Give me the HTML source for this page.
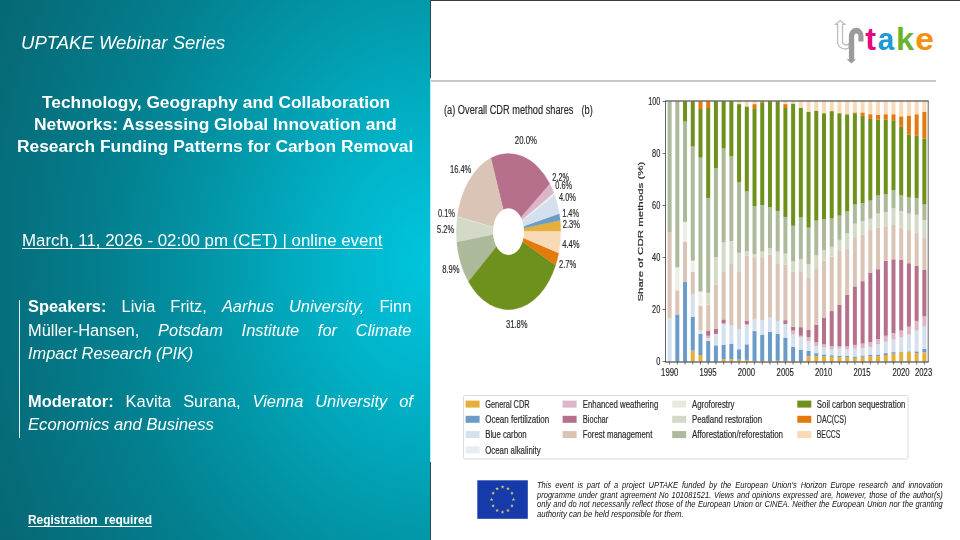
<!DOCTYPE html>
<html lang="en"><head><meta charset="utf-8"><title>UPTAKE Webinar Series</title>
<style>
html,body{margin:0;padding:0;}
body{width:960px;height:540px;overflow:hidden;background:#fff;position:relative;font-family:"Liberation Sans",sans-serif;}
.left{position:absolute;left:0;top:0;width:430.4px;height:540px;
 background:radial-gradient(ellipse 432px 545px at 432px 264px,#00c6de 0,#01b1c6 25.5%,#0297a9 50.2%,#037f8e 75.2%,#066e7c 100%,#076472 116%,#085e6c 126%);}
.ln{position:absolute;white-space:pre;transform-origin:0 0;color:#fff;margin:0;}
.jl{text-align:justify;text-align-last:justify;white-space:normal;}
.b{font-weight:700}.i{font-style:italic}
.u{text-decoration:underline;text-decoration-thickness:1px;text-underline-offset:2px;text-decoration-skip-ink:none}
.vbar{position:absolute;left:19.3px;top:300px;width:1.1px;height:137.5px;background:#e4f3f5;}
.topline{position:absolute;left:430px;top:0;width:530px;height:1.2px;background:#3d3d3d;}
.vd1{position:absolute;left:430.1px;top:0;width:0.9px;height:78px;background:#2c4a50;}
.vd2{position:absolute;left:430.1px;top:462px;width:0.9px;height:78px;background:#2c4a50;}
.vl{position:absolute;left:430px;top:78px;width:1px;height:384px;background:#b9ebf1;}
.hr{position:absolute;left:430.5px;top:80px;width:505px;height:1.6px;background:#c9c9c9;}
.foot{color:#111;}
.logo{position:absolute;}
</style></head><body>
<div class="left"></div>
<div class="topline"></div><div class="vl"></div><div class="vd1"></div><div class="vd2"></div><div class="hr"></div>
<div class="ln i" style="left:21.3px;top:30.65px;font-size:19.2px;line-height:24px;transform:scaleX(0.9655);">UPTAKE Webinar Series</div>
<div class="ln b" style="left:41.5px;top:90.74px;font-size:17.2px;line-height:22px;transform:scaleX(1.0091);">Technology, Geography and Collaboration</div>
<div class="ln b" style="left:34.0px;top:113.04px;font-size:17.2px;line-height:22px;transform:scaleX(1.0118);">Networks: Assessing Global Innovation and</div>
<div class="ln b" style="left:17.0px;top:135.24px;font-size:17.2px;line-height:22px;transform:scaleX(1.0096);">Research Funding Patterns for Carbon Removal</div>
<div class="ln u" style="left:22.2px;top:230.15px;font-size:16.3px;line-height:20px;transform:scaleX(1.0365);">March, 11, 2026 - 02:00 pm (CET) | online event</div>
<div class="ln i" style="left:28.4px;top:343.45px;font-size:16.3px;line-height:20px;transform:scaleX(1.0037);">Impact Research (PIK)</div>
<div class="ln i" style="left:28.4px;top:414.25px;font-size:16.3px;line-height:20px;transform:scaleX(1.0220);">Economics and Business</div>
<div class="ln b u" style="left:27.5px;top:512.57px;font-size:12.2px;line-height:15px;transform:scaleX(0.9791);">Registration  required</div>
<div class="ln jl " style="left:28.4px;top:296.25px;width:380.36px;font-size:16.3px;line-height:20px;transform:scaleX(1.0080);"><span class="b">Speakers:</span> Livia Fritz, <span class="i">Aarhus University,</span> Finn</div>
<div class="ln jl " style="left:28.4px;top:319.85px;width:380.36px;font-size:16.3px;line-height:20px;transform:scaleX(1.0080);">Müller-Hansen, <span class="i">Potsdam Institute for Climate</span></div>
<div class="ln jl " style="left:28.4px;top:390.55px;width:381.85px;font-size:16.3px;line-height:20px;transform:scaleX(1.0080);"><span class="b">Moderator:</span> Kavita Surana, <span class="i">Vienna University of</span></div>
<div class="vbar"></div>
<div class="ln jl i foot" style="left:536.5px;top:480.96px;width:441.09px;font-size:8.2px;line-height:10px;transform:scaleX(0.9200);">This event is part of a project UPTAKE funded by the European Union’s Horizon Europe research and innovation</div>
<div class="ln jl i foot" style="left:536.5px;top:490.66px;width:441.09px;font-size:8.2px;line-height:10px;transform:scaleX(0.9200);">programme under grant agreement No 101081521. Views and opinions expressed are, however, those of the author(s)</div>
<div class="ln jl i foot" style="left:536.5px;top:500.36px;width:441.09px;font-size:8.2px;line-height:10px;transform:scaleX(0.9200);">only and do not necessarily reflect those of the European Union or CINEA. Neither the European Union nor the granting</div>
<div class="ln i foot" style="left:536.5px;top:510.06px;font-size:8.2px;line-height:10px;transform:scaleX(0.9480);">authority can be held responsible for them.</div>
<svg width="960" height="540" style="position:absolute;left:0;top:0;pointer-events:none"><defs><filter id="sb"><feGaussianBlur stdDeviation="0.45"/></filter></defs><rect x="477.3" y="480.3" width="50.5" height="38.5" fill="#173aab"/><g filter="url(#sb)"><polygon points="502.55,484.95 503.02,486.30 504.45,486.33 503.31,487.20 503.73,488.57 502.55,487.75 501.37,488.57 501.79,487.20 500.65,486.33 502.08,486.30" fill="#d6d56a" opacity="0.9"/><polygon points="508.00,486.64 508.47,487.99 509.90,488.02 508.76,488.89 509.18,490.26 508.00,489.44 506.82,490.26 507.24,488.89 506.10,488.02 507.53,487.99" fill="#d6d56a" opacity="0.9"/><polygon points="511.99,491.25 512.46,492.60 513.89,492.63 512.75,493.50 513.17,494.87 511.99,494.05 510.81,494.87 511.23,493.50 510.09,492.63 511.52,492.60" fill="#d6d56a" opacity="0.9"/><polygon points="513.45,497.55 513.92,498.90 515.35,498.93 514.21,499.80 514.63,501.17 513.45,500.35 512.27,501.17 512.69,499.80 511.55,498.93 512.98,498.90" fill="#d6d56a" opacity="0.9"/><polygon points="511.99,503.85 512.46,505.20 513.89,505.23 512.75,506.10 513.17,507.47 511.99,506.65 510.81,507.47 511.23,506.10 510.09,505.23 511.52,505.20" fill="#d6d56a" opacity="0.9"/><polygon points="508.00,508.46 508.47,509.81 509.90,509.84 508.76,510.71 509.18,512.08 508.00,511.26 506.82,512.08 507.24,510.71 506.10,509.84 507.53,509.81" fill="#d6d56a" opacity="0.9"/><polygon points="502.55,510.15 503.02,511.50 504.45,511.53 503.31,512.40 503.73,513.77 502.55,512.95 501.37,513.77 501.79,512.40 500.65,511.53 502.08,511.50" fill="#d6d56a" opacity="0.9"/><polygon points="497.10,508.46 497.57,509.81 499.00,509.84 497.86,510.71 498.28,512.08 497.10,511.26 495.92,512.08 496.34,510.71 495.20,509.84 496.63,509.81" fill="#d6d56a" opacity="0.9"/><polygon points="493.11,503.85 493.58,505.20 495.01,505.23 493.87,506.10 494.29,507.47 493.11,506.65 491.93,507.47 492.35,506.10 491.21,505.23 492.64,505.20" fill="#d6d56a" opacity="0.9"/><polygon points="491.65,497.55 492.12,498.90 493.55,498.93 492.41,499.80 492.83,501.17 491.65,500.35 490.47,501.17 490.89,499.80 489.75,498.93 491.18,498.90" fill="#d6d56a" opacity="0.9"/><polygon points="493.11,491.25 493.58,492.60 495.01,492.63 493.87,493.50 494.29,494.87 493.11,494.05 491.93,494.87 492.35,493.50 491.21,492.63 492.64,492.60" fill="#d6d56a" opacity="0.9"/><polygon points="497.10,486.64 497.57,487.99 499.00,488.02 497.86,488.89 498.28,490.26 497.10,489.44 495.92,490.26 496.34,488.89 495.20,488.02 496.63,487.99" fill="#d6d56a" opacity="0.9"/></g></svg>
<svg width="960" height="540" style="position:absolute;left:0;top:0;pointer-events:none" font-family='"Liberation Sans", sans-serif'>
<path d="M840.1,20.6 L844.7,24.3 L842.5,24.3 L842.5,41.5 A3.6,3.6 0 0 0 849.0,43.5 L849.0,47.8 A7.5,7.5 0 0 1 837.6,42.5 L837.6,24.3 L835.6,24.3 Z" fill="#fff" stroke="#bdbdbd" stroke-width="1.3"/>
<path d="M848.9,59.2 L848.9,36.0 A7.3,8.3 0 0 1 863.5,36.0 L863.5,41.5 L858.4,41.5 L858.4,36.5 A2.1,3.0 0 0 0 854.2,36.5 L854.2,59.2 L856.0,59.2 L851.4,63.6 L846.6,59.2 Z" fill="#9b9b9b"/>
<g font-size="32.5" font-weight="700" transform="translate(0,50.1) scale(1,0.962)"><text x="865.3" y="0" fill="#e5087e">t</text><text x="877.7" y="0" fill="#1c9ad7" textLength="16.4" lengthAdjust="spacingAndGlyphs">a</text><text x="895.9" y="0" fill="#6bb32e">k</text><text x="915.3" y="0" fill="#f2920f" textLength="18.7" lengthAdjust="spacingAndGlyphs">e</text></g>
</svg>
<svg class="chart" width="960" height="540" viewBox="0 0 960 540" style="position:absolute;left:0;top:0" font-family='"Liberation Sans", sans-serif'>
<g filter="url(#bl)">
<path d="M508.5,231.6 L560.70,231.60 A52.2,78.1 0 0 0 560.16,220.35 Z" fill="#e6af3a" stroke="#e6af3a" stroke-width="0.3"/>
<path d="M508.5,231.6 L560.16,220.35 A52.2,78.1 0 0 0 559.30,213.61 Z" fill="#6b9bc9" stroke="#6b9bc9" stroke-width="0.3"/>
<path d="M508.5,231.6 L559.30,213.61 A52.2,78.1 0 0 0 554.71,195.27 Z" fill="#d5e0ee" stroke="#d5e0ee" stroke-width="0.3"/>
<path d="M508.5,231.6 L554.71,195.27 A52.2,78.1 0 0 0 553.76,192.69 Z" fill="#e7ecf5" stroke="#e7ecf5" stroke-width="0.3"/>
<path d="M508.5,231.6 L553.76,192.69 A52.2,78.1 0 0 0 549.75,183.73 Z" fill="#dcb5c6" stroke="#dcb5c6" stroke-width="0.3"/>
<path d="M508.5,231.6 L549.75,183.73 A52.2,78.1 0 0 0 490.82,158.12 Z" fill="#b7708b" stroke="#b7708b" stroke-width="0.3"/>
<path d="M508.5,231.6 L490.82,158.12 A52.2,78.1 0 0 0 457.29,216.48 Z" fill="#d9c4b6" stroke="#d9c4b6" stroke-width="0.3"/>
<path d="M508.5,231.6 L457.29,216.48 A52.2,78.1 0 0 0 457.22,216.97 Z" fill="#e6ebe0" stroke="#e6ebe0" stroke-width="0.3"/>
<path d="M508.5,231.6 L457.22,216.97 A52.2,78.1 0 0 0 456.80,242.36 Z" fill="#d3dbc8" stroke="#d3dbc8" stroke-width="0.3"/>
<path d="M508.5,231.6 L456.80,242.36 A52.2,78.1 0 0 0 468.49,281.76 Z" fill="#acb99b" stroke="#acb99b" stroke-width="0.3"/>
<path d="M508.5,231.6 L468.49,281.76 A52.2,78.1 0 0 0 555.59,265.30 Z" fill="#6e901b" stroke="#6e901b" stroke-width="0.3"/>
<path d="M508.5,231.6 L555.59,265.30 A52.2,78.1 0 0 0 558.72,252.92 Z" fill="#e37a10" stroke="#e37a10" stroke-width="0.3"/>
<path d="M508.5,231.6 L558.72,252.92 A52.2,78.1 0 0 0 560.70,231.60 Z" fill="#f8dab6" stroke="#f8dab6" stroke-width="0.3"/>
<ellipse cx="508.5" cy="231.6" rx="15.6" ry="23.4" fill="#fff"/>
<rect x="667.60" y="318.34" width="4.0" height="43.16" fill="#d5e0ee"/>
<rect x="667.60" y="232.02" width="4.0" height="86.32" fill="#d9c4b6"/>
<rect x="667.60" y="101.50" width="4.0" height="130.52" fill="#acb99b"/>
<rect x="675.32" y="314.44" width="4.0" height="47.06" fill="#6b9bc9"/>
<rect x="675.32" y="290.26" width="4.0" height="24.18" fill="#d9c4b6"/>
<rect x="675.32" y="267.38" width="4.0" height="22.88" fill="#ebefe6"/>
<rect x="675.32" y="101.50" width="4.0" height="165.88" fill="#acb99b"/>
<rect x="683.04" y="281.94" width="4.0" height="79.56" fill="#6b9bc9"/>
<rect x="683.04" y="241.64" width="4.0" height="40.30" fill="#d9c4b6"/>
<rect x="683.04" y="221.88" width="4.0" height="19.76" fill="#ebefe6"/>
<rect x="683.04" y="121.52" width="4.0" height="100.36" fill="#acb99b"/>
<rect x="683.04" y="101.50" width="4.0" height="20.02" fill="#6e901b"/>
<rect x="690.76" y="350.58" width="4.0" height="10.92" fill="#e6af3a"/>
<rect x="690.76" y="316.78" width="4.0" height="33.80" fill="#6b9bc9"/>
<rect x="690.76" y="294.16" width="4.0" height="22.62" fill="#d5e0ee"/>
<rect x="690.76" y="271.80" width="4.0" height="22.36" fill="#d9c4b6"/>
<rect x="690.76" y="260.62" width="4.0" height="11.18" fill="#ebefe6"/>
<rect x="690.76" y="146.48" width="4.0" height="114.14" fill="#acb99b"/>
<rect x="690.76" y="101.50" width="4.0" height="44.98" fill="#6e901b"/>
<rect x="698.48" y="355.00" width="4.0" height="6.50" fill="#e6af3a"/>
<rect x="698.48" y="333.94" width="4.0" height="21.06" fill="#6b9bc9"/>
<rect x="698.48" y="330.56" width="4.0" height="3.38" fill="#d5e0ee"/>
<rect x="698.48" y="305.86" width="4.0" height="24.70" fill="#d9c4b6"/>
<rect x="698.48" y="291.56" width="4.0" height="14.30" fill="#ebefe6"/>
<rect x="698.48" y="157.66" width="4.0" height="133.90" fill="#acb99b"/>
<rect x="698.48" y="109.04" width="4.0" height="48.62" fill="#6e901b"/>
<rect x="698.48" y="101.50" width="4.0" height="7.54" fill="#e37a10"/>
<rect x="706.20" y="340.96" width="4.0" height="20.54" fill="#6b9bc9"/>
<rect x="706.20" y="338.10" width="4.0" height="2.86" fill="#d5e0ee"/>
<rect x="706.20" y="335.76" width="4.0" height="2.34" fill="#dcb5c6"/>
<rect x="706.20" y="330.56" width="4.0" height="5.20" fill="#b7708b"/>
<rect x="706.20" y="304.56" width="4.0" height="26.00" fill="#d9c4b6"/>
<rect x="706.20" y="292.86" width="4.0" height="11.70" fill="#d3dbc8"/>
<rect x="706.20" y="197.96" width="4.0" height="94.90" fill="#acb99b"/>
<rect x="706.20" y="108.00" width="4.0" height="89.96" fill="#6e901b"/>
<rect x="706.20" y="101.50" width="4.0" height="6.50" fill="#e37a10"/>
<rect x="713.92" y="345.38" width="4.0" height="16.12" fill="#6b9bc9"/>
<rect x="713.92" y="333.94" width="4.0" height="11.44" fill="#d5e0ee"/>
<rect x="713.92" y="328.74" width="4.0" height="5.20" fill="#b7708b"/>
<rect x="713.92" y="284.54" width="4.0" height="44.20" fill="#d9c4b6"/>
<rect x="713.92" y="257.24" width="4.0" height="27.30" fill="#d3dbc8"/>
<rect x="713.92" y="168.06" width="4.0" height="89.18" fill="#acb99b"/>
<rect x="713.92" y="101.50" width="4.0" height="66.56" fill="#6e901b"/>
<rect x="721.64" y="359.16" width="4.0" height="2.34" fill="#e6af3a"/>
<rect x="721.64" y="344.86" width="4.0" height="14.30" fill="#6b9bc9"/>
<rect x="721.64" y="323.54" width="4.0" height="21.32" fill="#d5e0ee"/>
<rect x="721.64" y="319.38" width="4.0" height="4.16" fill="#b7708b"/>
<rect x="721.64" y="272.06" width="4.0" height="47.32" fill="#d9c4b6"/>
<rect x="721.64" y="242.42" width="4.0" height="29.64" fill="#d3dbc8"/>
<rect x="721.64" y="148.56" width="4.0" height="93.86" fill="#acb99b"/>
<rect x="721.64" y="101.50" width="4.0" height="47.06" fill="#6e901b"/>
<rect x="729.36" y="359.16" width="4.0" height="2.34" fill="#e6af3a"/>
<rect x="729.36" y="343.56" width="4.0" height="15.60" fill="#6b9bc9"/>
<rect x="729.36" y="325.10" width="4.0" height="18.46" fill="#d5e0ee"/>
<rect x="729.36" y="324.06" width="4.0" height="1.04" fill="#dcb5c6"/>
<rect x="729.36" y="263.22" width="4.0" height="60.84" fill="#d9c4b6"/>
<rect x="729.36" y="241.12" width="4.0" height="22.10" fill="#d3dbc8"/>
<rect x="729.36" y="156.36" width="4.0" height="84.76" fill="#acb99b"/>
<rect x="729.36" y="101.50" width="4.0" height="54.86" fill="#6e901b"/>
<rect x="737.08" y="359.68" width="4.0" height="1.82" fill="#e6af3a"/>
<rect x="737.08" y="349.28" width="4.0" height="10.40" fill="#6b9bc9"/>
<rect x="737.08" y="329.26" width="4.0" height="20.02" fill="#d5e0ee"/>
<rect x="737.08" y="272.06" width="4.0" height="57.20" fill="#d9c4b6"/>
<rect x="737.08" y="252.82" width="4.0" height="19.24" fill="#d3dbc8"/>
<rect x="737.08" y="182.36" width="4.0" height="70.46" fill="#acb99b"/>
<rect x="737.08" y="104.10" width="4.0" height="78.26" fill="#6e901b"/>
<rect x="737.08" y="101.50" width="4.0" height="2.60" fill="#f8dab6"/>
<rect x="744.80" y="359.94" width="4.0" height="1.56" fill="#e6af3a"/>
<rect x="744.80" y="344.34" width="4.0" height="15.60" fill="#6b9bc9"/>
<rect x="744.80" y="325.36" width="4.0" height="18.98" fill="#d5e0ee"/>
<rect x="744.80" y="324.06" width="4.0" height="1.30" fill="#dcb5c6"/>
<rect x="744.80" y="320.94" width="4.0" height="3.12" fill="#b7708b"/>
<rect x="744.80" y="255.42" width="4.0" height="65.52" fill="#d9c4b6"/>
<rect x="744.80" y="251.52" width="4.0" height="3.90" fill="#d3dbc8"/>
<rect x="744.80" y="191.46" width="4.0" height="60.06" fill="#acb99b"/>
<rect x="744.80" y="106.44" width="4.0" height="85.02" fill="#6e901b"/>
<rect x="744.80" y="101.50" width="4.0" height="4.94" fill="#f8dab6"/>
<rect x="752.52" y="360.98" width="4.0" height="0.52" fill="#e6af3a"/>
<rect x="752.52" y="331.08" width="4.0" height="29.90" fill="#6b9bc9"/>
<rect x="752.52" y="319.38" width="4.0" height="11.70" fill="#d5e0ee"/>
<rect x="752.52" y="258.02" width="4.0" height="61.36" fill="#d9c4b6"/>
<rect x="752.52" y="254.12" width="4.0" height="3.90" fill="#d3dbc8"/>
<rect x="752.52" y="206.28" width="4.0" height="47.84" fill="#acb99b"/>
<rect x="752.52" y="109.04" width="4.0" height="97.24" fill="#6e901b"/>
<rect x="752.52" y="104.10" width="4.0" height="4.94" fill="#e37a10"/>
<rect x="752.52" y="101.50" width="4.0" height="2.60" fill="#f8dab6"/>
<rect x="760.24" y="360.98" width="4.0" height="0.52" fill="#e6af3a"/>
<rect x="760.24" y="334.98" width="4.0" height="26.00" fill="#6b9bc9"/>
<rect x="760.24" y="320.16" width="4.0" height="14.82" fill="#d5e0ee"/>
<rect x="760.24" y="257.24" width="4.0" height="62.92" fill="#d9c4b6"/>
<rect x="760.24" y="251.52" width="4.0" height="5.72" fill="#d3dbc8"/>
<rect x="760.24" y="204.98" width="4.0" height="46.54" fill="#acb99b"/>
<rect x="760.24" y="102.80" width="4.0" height="102.18" fill="#6e901b"/>
<rect x="760.24" y="101.50" width="4.0" height="1.30" fill="#e37a10"/>
<rect x="767.96" y="360.98" width="4.0" height="0.52" fill="#e6af3a"/>
<rect x="767.96" y="331.86" width="4.0" height="29.12" fill="#6b9bc9"/>
<rect x="767.96" y="317.56" width="4.0" height="14.30" fill="#d5e0ee"/>
<rect x="767.96" y="254.64" width="4.0" height="62.92" fill="#d9c4b6"/>
<rect x="767.96" y="248.40" width="4.0" height="6.24" fill="#d3dbc8"/>
<rect x="767.96" y="207.06" width="4.0" height="41.34" fill="#acb99b"/>
<rect x="767.96" y="101.50" width="4.0" height="105.56" fill="#6e901b"/>
<rect x="775.68" y="360.72" width="4.0" height="0.78" fill="#e6af3a"/>
<rect x="775.68" y="333.94" width="4.0" height="26.78" fill="#6b9bc9"/>
<rect x="775.68" y="320.94" width="4.0" height="13.00" fill="#d5e0ee"/>
<rect x="775.68" y="264.00" width="4.0" height="56.94" fill="#d9c4b6"/>
<rect x="775.68" y="251.52" width="4.0" height="12.48" fill="#d3dbc8"/>
<rect x="775.68" y="210.96" width="4.0" height="40.56" fill="#acb99b"/>
<rect x="775.68" y="101.50" width="4.0" height="109.46" fill="#6e901b"/>
<rect x="783.40" y="360.98" width="4.0" height="0.52" fill="#e6af3a"/>
<rect x="783.40" y="337.58" width="4.0" height="23.40" fill="#6b9bc9"/>
<rect x="783.40" y="324.06" width="4.0" height="13.52" fill="#d5e0ee"/>
<rect x="783.40" y="320.16" width="4.0" height="3.90" fill="#b7708b"/>
<rect x="783.40" y="264.52" width="4.0" height="55.64" fill="#d9c4b6"/>
<rect x="783.40" y="253.60" width="4.0" height="10.92" fill="#d3dbc8"/>
<rect x="783.40" y="216.94" width="4.0" height="36.66" fill="#acb99b"/>
<rect x="783.40" y="108.00" width="4.0" height="108.94" fill="#6e901b"/>
<rect x="783.40" y="104.10" width="4.0" height="3.90" fill="#e37a10"/>
<rect x="783.40" y="101.50" width="4.0" height="2.60" fill="#f8dab6"/>
<rect x="791.12" y="360.98" width="4.0" height="0.52" fill="#e6af3a"/>
<rect x="791.12" y="346.68" width="4.0" height="14.30" fill="#6b9bc9"/>
<rect x="791.12" y="334.46" width="4.0" height="12.22" fill="#d5e0ee"/>
<rect x="791.12" y="330.56" width="4.0" height="3.90" fill="#dcb5c6"/>
<rect x="791.12" y="326.66" width="4.0" height="3.90" fill="#b7708b"/>
<rect x="791.12" y="271.80" width="4.0" height="54.86" fill="#d9c4b6"/>
<rect x="791.12" y="261.40" width="4.0" height="10.40" fill="#d3dbc8"/>
<rect x="791.12" y="225.78" width="4.0" height="35.62" fill="#acb99b"/>
<rect x="791.12" y="103.58" width="4.0" height="122.20" fill="#6e901b"/>
<rect x="791.12" y="101.50" width="4.0" height="2.08" fill="#f8dab6"/>
<rect x="798.84" y="360.98" width="4.0" height="0.52" fill="#e6af3a"/>
<rect x="798.84" y="349.54" width="4.0" height="11.44" fill="#6b9bc9"/>
<rect x="798.84" y="337.06" width="4.0" height="12.48" fill="#d5e0ee"/>
<rect x="798.84" y="335.76" width="4.0" height="1.30" fill="#dcb5c6"/>
<rect x="798.84" y="327.18" width="4.0" height="8.58" fill="#b7708b"/>
<rect x="798.84" y="272.06" width="4.0" height="55.12" fill="#d9c4b6"/>
<rect x="798.84" y="259.32" width="4.0" height="12.74" fill="#d3dbc8"/>
<rect x="798.84" y="217.46" width="4.0" height="41.86" fill="#acb99b"/>
<rect x="798.84" y="107.74" width="4.0" height="109.72" fill="#6e901b"/>
<rect x="798.84" y="101.50" width="4.0" height="6.24" fill="#f8dab6"/>
<rect x="806.56" y="356.30" width="4.0" height="5.20" fill="#e6af3a"/>
<rect x="806.56" y="350.84" width="4.0" height="5.46" fill="#6b9bc9"/>
<rect x="806.56" y="340.96" width="4.0" height="9.88" fill="#d5e0ee"/>
<rect x="806.56" y="337.06" width="4.0" height="3.90" fill="#dcb5c6"/>
<rect x="806.56" y="329.78" width="4.0" height="7.28" fill="#b7708b"/>
<rect x="806.56" y="277.26" width="4.0" height="52.52" fill="#d9c4b6"/>
<rect x="806.56" y="264.26" width="4.0" height="13.00" fill="#d3dbc8"/>
<rect x="806.56" y="227.60" width="4.0" height="36.66" fill="#acb99b"/>
<rect x="806.56" y="111.64" width="4.0" height="115.96" fill="#6e901b"/>
<rect x="806.56" y="101.50" width="4.0" height="10.14" fill="#f8dab6"/>
<rect x="814.28" y="356.30" width="4.0" height="5.20" fill="#e6af3a"/>
<rect x="814.28" y="353.18" width="4.0" height="3.12" fill="#6b9bc9"/>
<rect x="814.28" y="346.16" width="4.0" height="7.02" fill="#d5e0ee"/>
<rect x="814.28" y="342.26" width="4.0" height="3.90" fill="#dcb5c6"/>
<rect x="814.28" y="324.58" width="4.0" height="17.68" fill="#b7708b"/>
<rect x="814.28" y="268.16" width="4.0" height="56.42" fill="#d9c4b6"/>
<rect x="814.28" y="255.42" width="4.0" height="12.74" fill="#d3dbc8"/>
<rect x="814.28" y="220.58" width="4.0" height="34.84" fill="#acb99b"/>
<rect x="814.28" y="110.60" width="4.0" height="109.98" fill="#6e901b"/>
<rect x="814.28" y="101.50" width="4.0" height="9.10" fill="#f8dab6"/>
<rect x="822.00" y="356.30" width="4.0" height="5.20" fill="#e6af3a"/>
<rect x="822.00" y="354.48" width="4.0" height="1.82" fill="#6b9bc9"/>
<rect x="822.00" y="347.46" width="4.0" height="7.02" fill="#d5e0ee"/>
<rect x="822.00" y="344.34" width="4.0" height="3.12" fill="#dcb5c6"/>
<rect x="822.00" y="317.56" width="4.0" height="26.78" fill="#b7708b"/>
<rect x="822.00" y="260.62" width="4.0" height="56.94" fill="#d9c4b6"/>
<rect x="822.00" y="250.22" width="4.0" height="10.40" fill="#d3dbc8"/>
<rect x="822.00" y="219.28" width="4.0" height="30.94" fill="#acb99b"/>
<rect x="822.00" y="113.20" width="4.0" height="106.08" fill="#6e901b"/>
<rect x="822.00" y="101.50" width="4.0" height="11.70" fill="#f8dab6"/>
<rect x="829.72" y="356.82" width="4.0" height="4.68" fill="#e6af3a"/>
<rect x="829.72" y="355.26" width="4.0" height="1.56" fill="#6b9bc9"/>
<rect x="829.72" y="349.54" width="4.0" height="5.72" fill="#d5e0ee"/>
<rect x="829.72" y="346.16" width="4.0" height="3.38" fill="#dcb5c6"/>
<rect x="829.72" y="311.06" width="4.0" height="35.10" fill="#b7708b"/>
<rect x="829.72" y="256.72" width="4.0" height="54.34" fill="#d9c4b6"/>
<rect x="829.72" y="246.84" width="4.0" height="9.88" fill="#d3dbc8"/>
<rect x="829.72" y="218.50" width="4.0" height="28.34" fill="#acb99b"/>
<rect x="829.72" y="111.12" width="4.0" height="107.38" fill="#6e901b"/>
<rect x="829.72" y="101.50" width="4.0" height="9.62" fill="#f8dab6"/>
<rect x="837.44" y="357.08" width="4.0" height="4.42" fill="#e6af3a"/>
<rect x="837.44" y="355.78" width="4.0" height="1.30" fill="#6b9bc9"/>
<rect x="837.44" y="348.76" width="4.0" height="7.02" fill="#d5e0ee"/>
<rect x="837.44" y="346.16" width="4.0" height="2.60" fill="#dcb5c6"/>
<rect x="837.44" y="304.56" width="4.0" height="41.60" fill="#b7708b"/>
<rect x="837.44" y="250.22" width="4.0" height="54.34" fill="#d9c4b6"/>
<rect x="837.44" y="239.82" width="4.0" height="10.40" fill="#d3dbc8"/>
<rect x="837.44" y="215.64" width="4.0" height="24.18" fill="#acb99b"/>
<rect x="837.44" y="113.20" width="4.0" height="102.44" fill="#6e901b"/>
<rect x="837.44" y="101.50" width="4.0" height="11.70" fill="#f8dab6"/>
<rect x="845.16" y="357.08" width="4.0" height="4.42" fill="#e6af3a"/>
<rect x="845.16" y="356.04" width="4.0" height="1.04" fill="#6b9bc9"/>
<rect x="845.16" y="349.54" width="4.0" height="6.50" fill="#d5e0ee"/>
<rect x="845.16" y="346.16" width="4.0" height="3.38" fill="#dcb5c6"/>
<rect x="845.16" y="294.94" width="4.0" height="51.22" fill="#b7708b"/>
<rect x="845.16" y="248.92" width="4.0" height="46.02" fill="#d9c4b6"/>
<rect x="845.16" y="233.32" width="4.0" height="15.60" fill="#d3dbc8"/>
<rect x="845.16" y="211.48" width="4.0" height="21.84" fill="#acb99b"/>
<rect x="845.16" y="114.24" width="4.0" height="97.24" fill="#6e901b"/>
<rect x="845.16" y="101.50" width="4.0" height="12.74" fill="#f8dab6"/>
<rect x="852.88" y="357.86" width="4.0" height="3.64" fill="#e6af3a"/>
<rect x="852.88" y="356.56" width="4.0" height="1.30" fill="#6b9bc9"/>
<rect x="852.88" y="348.76" width="4.0" height="7.80" fill="#d5e0ee"/>
<rect x="852.88" y="344.86" width="4.0" height="3.90" fill="#dcb5c6"/>
<rect x="852.88" y="286.36" width="4.0" height="58.50" fill="#b7708b"/>
<rect x="852.88" y="237.22" width="4.0" height="49.14" fill="#d9c4b6"/>
<rect x="852.88" y="223.70" width="4.0" height="13.52" fill="#d3dbc8"/>
<rect x="852.88" y="204.46" width="4.0" height="19.24" fill="#acb99b"/>
<rect x="852.88" y="113.20" width="4.0" height="91.26" fill="#6e901b"/>
<rect x="852.88" y="112.42" width="4.0" height="0.78" fill="#e37a10"/>
<rect x="852.88" y="101.50" width="4.0" height="10.92" fill="#f8dab6"/>
<rect x="860.60" y="356.82" width="4.0" height="4.68" fill="#e6af3a"/>
<rect x="860.60" y="355.52" width="4.0" height="1.30" fill="#6b9bc9"/>
<rect x="860.60" y="347.98" width="4.0" height="7.54" fill="#d5e0ee"/>
<rect x="860.60" y="343.56" width="4.0" height="4.42" fill="#dcb5c6"/>
<rect x="860.60" y="281.16" width="4.0" height="62.40" fill="#b7708b"/>
<rect x="860.60" y="234.62" width="4.0" height="46.54" fill="#d9c4b6"/>
<rect x="860.60" y="221.10" width="4.0" height="13.52" fill="#d3dbc8"/>
<rect x="860.60" y="203.16" width="4.0" height="17.94" fill="#acb99b"/>
<rect x="860.60" y="115.80" width="4.0" height="87.36" fill="#6e901b"/>
<rect x="860.60" y="112.42" width="4.0" height="3.38" fill="#e37a10"/>
<rect x="860.60" y="101.50" width="4.0" height="10.92" fill="#f8dab6"/>
<rect x="868.32" y="356.30" width="4.0" height="5.20" fill="#e6af3a"/>
<rect x="868.32" y="354.74" width="4.0" height="1.56" fill="#6b9bc9"/>
<rect x="868.32" y="346.94" width="4.0" height="7.80" fill="#d5e0ee"/>
<rect x="868.32" y="342.26" width="4.0" height="4.68" fill="#dcb5c6"/>
<rect x="868.32" y="272.58" width="4.0" height="69.68" fill="#b7708b"/>
<rect x="868.32" y="229.42" width="4.0" height="43.16" fill="#d9c4b6"/>
<rect x="868.32" y="218.76" width="4.0" height="10.66" fill="#d3dbc8"/>
<rect x="868.32" y="200.56" width="4.0" height="18.20" fill="#acb99b"/>
<rect x="868.32" y="118.92" width="4.0" height="81.64" fill="#6e901b"/>
<rect x="868.32" y="114.24" width="4.0" height="4.68" fill="#e37a10"/>
<rect x="868.32" y="101.50" width="4.0" height="12.74" fill="#f8dab6"/>
<rect x="876.04" y="355.91" width="4.0" height="5.59" fill="#e6af3a"/>
<rect x="876.04" y="354.48" width="4.0" height="1.43" fill="#6b9bc9"/>
<rect x="876.04" y="344.34" width="4.0" height="10.14" fill="#d5e0ee"/>
<rect x="876.04" y="339.14" width="4.0" height="5.20" fill="#dcb5c6"/>
<rect x="876.04" y="269.20" width="4.0" height="69.94" fill="#b7708b"/>
<rect x="876.04" y="227.34" width="4.0" height="41.86" fill="#d9c4b6"/>
<rect x="876.04" y="213.56" width="4.0" height="13.78" fill="#d3dbc8"/>
<rect x="876.04" y="195.36" width="4.0" height="18.20" fill="#acb99b"/>
<rect x="876.04" y="119.44" width="4.0" height="75.92" fill="#6e901b"/>
<rect x="876.04" y="115.02" width="4.0" height="4.42" fill="#e37a10"/>
<rect x="876.04" y="101.50" width="4.0" height="13.52" fill="#f8dab6"/>
<rect x="883.76" y="355.00" width="4.0" height="6.50" fill="#e6af3a"/>
<rect x="883.76" y="353.18" width="4.0" height="1.82" fill="#6b9bc9"/>
<rect x="883.76" y="341.74" width="4.0" height="11.44" fill="#d5e0ee"/>
<rect x="883.76" y="335.76" width="4.0" height="5.98" fill="#dcb5c6"/>
<rect x="883.76" y="260.62" width="4.0" height="75.14" fill="#b7708b"/>
<rect x="883.76" y="226.30" width="4.0" height="34.32" fill="#d9c4b6"/>
<rect x="883.76" y="212.26" width="4.0" height="14.04" fill="#d3dbc8"/>
<rect x="883.76" y="194.06" width="4.0" height="18.20" fill="#acb99b"/>
<rect x="883.76" y="119.44" width="4.0" height="74.62" fill="#6e901b"/>
<rect x="883.76" y="114.24" width="4.0" height="5.20" fill="#e37a10"/>
<rect x="883.76" y="101.50" width="4.0" height="12.74" fill="#f8dab6"/>
<rect x="891.48" y="353.70" width="4.0" height="7.80" fill="#e6af3a"/>
<rect x="891.48" y="352.14" width="4.0" height="1.56" fill="#6b9bc9"/>
<rect x="891.48" y="339.66" width="4.0" height="12.48" fill="#d5e0ee"/>
<rect x="891.48" y="333.16" width="4.0" height="6.50" fill="#dcb5c6"/>
<rect x="891.48" y="259.32" width="4.0" height="73.84" fill="#b7708b"/>
<rect x="891.48" y="225.00" width="4.0" height="34.32" fill="#d9c4b6"/>
<rect x="891.48" y="208.36" width="4.0" height="16.64" fill="#d3dbc8"/>
<rect x="891.48" y="190.16" width="4.0" height="18.20" fill="#acb99b"/>
<rect x="891.48" y="120.22" width="4.0" height="69.94" fill="#6e901b"/>
<rect x="891.48" y="114.24" width="4.0" height="5.98" fill="#e37a10"/>
<rect x="891.48" y="101.50" width="4.0" height="12.74" fill="#f8dab6"/>
<rect x="899.20" y="352.40" width="4.0" height="9.10" fill="#e6af3a"/>
<rect x="899.20" y="351.62" width="4.0" height="0.78" fill="#6b9bc9"/>
<rect x="899.20" y="337.06" width="4.0" height="14.56" fill="#d5e0ee"/>
<rect x="899.20" y="330.56" width="4.0" height="6.50" fill="#dcb5c6"/>
<rect x="899.20" y="259.84" width="4.0" height="70.72" fill="#b7708b"/>
<rect x="899.20" y="227.60" width="4.0" height="32.24" fill="#d9c4b6"/>
<rect x="899.20" y="210.96" width="4.0" height="16.64" fill="#d3dbc8"/>
<rect x="899.20" y="195.36" width="4.0" height="15.60" fill="#acb99b"/>
<rect x="899.20" y="126.72" width="4.0" height="68.64" fill="#6e901b"/>
<rect x="899.20" y="116.32" width="4.0" height="10.40" fill="#e37a10"/>
<rect x="899.20" y="101.50" width="4.0" height="14.82" fill="#f8dab6"/>
<rect x="906.92" y="352.01" width="4.0" height="9.49" fill="#e6af3a"/>
<rect x="906.92" y="351.36" width="4.0" height="0.65" fill="#6b9bc9"/>
<rect x="906.92" y="334.46" width="4.0" height="16.90" fill="#d5e0ee"/>
<rect x="906.92" y="326.66" width="4.0" height="7.80" fill="#dcb5c6"/>
<rect x="906.92" y="263.22" width="4.0" height="63.44" fill="#b7708b"/>
<rect x="906.92" y="230.20" width="4.0" height="33.02" fill="#d9c4b6"/>
<rect x="906.92" y="213.56" width="4.0" height="16.64" fill="#d3dbc8"/>
<rect x="906.92" y="197.44" width="4.0" height="16.12" fill="#acb99b"/>
<rect x="906.92" y="134.52" width="4.0" height="62.92" fill="#6e901b"/>
<rect x="906.92" y="115.54" width="4.0" height="18.98" fill="#e37a10"/>
<rect x="906.92" y="101.50" width="4.0" height="14.04" fill="#f8dab6"/>
<rect x="914.64" y="353.18" width="4.0" height="8.32" fill="#e6af3a"/>
<rect x="914.64" y="351.36" width="4.0" height="1.82" fill="#6b9bc9"/>
<rect x="914.64" y="330.56" width="4.0" height="20.80" fill="#d5e0ee"/>
<rect x="914.64" y="320.94" width="4.0" height="9.62" fill="#dcb5c6"/>
<rect x="914.64" y="265.82" width="4.0" height="55.12" fill="#b7708b"/>
<rect x="914.64" y="232.80" width="4.0" height="33.02" fill="#d9c4b6"/>
<rect x="914.64" y="214.86" width="4.0" height="17.94" fill="#d3dbc8"/>
<rect x="914.64" y="197.96" width="4.0" height="16.90" fill="#acb99b"/>
<rect x="914.64" y="135.82" width="4.0" height="62.14" fill="#6e901b"/>
<rect x="914.64" y="114.24" width="4.0" height="21.58" fill="#e37a10"/>
<rect x="914.64" y="101.50" width="4.0" height="12.74" fill="#f8dab6"/>
<rect x="922.36" y="352.40" width="4.0" height="9.10" fill="#e6af3a"/>
<rect x="922.36" y="348.76" width="4.0" height="3.64" fill="#6b9bc9"/>
<rect x="922.36" y="326.66" width="4.0" height="22.10" fill="#d5e0ee"/>
<rect x="922.36" y="316.26" width="4.0" height="10.40" fill="#dcb5c6"/>
<rect x="922.36" y="269.98" width="4.0" height="46.28" fill="#b7708b"/>
<rect x="922.36" y="238.00" width="4.0" height="31.98" fill="#d9c4b6"/>
<rect x="922.36" y="220.06" width="4.0" height="17.94" fill="#d3dbc8"/>
<rect x="922.36" y="204.46" width="4.0" height="15.60" fill="#acb99b"/>
<rect x="922.36" y="138.42" width="4.0" height="66.04" fill="#6e901b"/>
<rect x="922.36" y="111.64" width="4.0" height="26.78" fill="#e37a10"/>
<rect x="922.36" y="101.50" width="4.0" height="10.14" fill="#f8dab6"/>
</g>
<g filter="url(#bt)">
<path d="M665,101 H928.6 M665,361.9 H928.6" fill="none" stroke="#2e2e2e" stroke-width="1.05"/>
<path d="M665.5,101 V362 M928.2,101 V362" fill="none" stroke="#3c3c3c" stroke-width="0.8"/>
<line x1="662.6" x2="665.2" y1="361.5" y2="361.5" stroke="#3a3a3a" stroke-width="0.7"/>
<line x1="662.6" x2="665.2" y1="309.5" y2="309.5" stroke="#3a3a3a" stroke-width="0.7"/>
<line x1="662.6" x2="665.2" y1="257.5" y2="257.5" stroke="#3a3a3a" stroke-width="0.7"/>
<line x1="662.6" x2="665.2" y1="205.5" y2="205.5" stroke="#3a3a3a" stroke-width="0.7"/>
<line x1="662.6" x2="665.2" y1="153.5" y2="153.5" stroke="#3a3a3a" stroke-width="0.7"/>
<line x1="662.6" x2="665.2" y1="101.5" y2="101.5" stroke="#3a3a3a" stroke-width="0.7"/>
<line x1="669.60" x2="669.60" y1="361.8" y2="364.6" stroke="#3a3a3a" stroke-width="0.7"/>
<line x1="677.32" x2="677.32" y1="361.8" y2="364.6" stroke="#3a3a3a" stroke-width="0.7"/>
<line x1="685.04" x2="685.04" y1="361.8" y2="364.6" stroke="#3a3a3a" stroke-width="0.7"/>
<line x1="692.76" x2="692.76" y1="361.8" y2="364.6" stroke="#3a3a3a" stroke-width="0.7"/>
<line x1="700.48" x2="700.48" y1="361.8" y2="364.6" stroke="#3a3a3a" stroke-width="0.7"/>
<line x1="708.20" x2="708.20" y1="361.8" y2="364.6" stroke="#3a3a3a" stroke-width="0.7"/>
<line x1="715.92" x2="715.92" y1="361.8" y2="364.6" stroke="#3a3a3a" stroke-width="0.7"/>
<line x1="723.64" x2="723.64" y1="361.8" y2="364.6" stroke="#3a3a3a" stroke-width="0.7"/>
<line x1="731.36" x2="731.36" y1="361.8" y2="364.6" stroke="#3a3a3a" stroke-width="0.7"/>
<line x1="739.08" x2="739.08" y1="361.8" y2="364.6" stroke="#3a3a3a" stroke-width="0.7"/>
<line x1="746.80" x2="746.80" y1="361.8" y2="364.6" stroke="#3a3a3a" stroke-width="0.7"/>
<line x1="754.52" x2="754.52" y1="361.8" y2="364.6" stroke="#3a3a3a" stroke-width="0.7"/>
<line x1="762.24" x2="762.24" y1="361.8" y2="364.6" stroke="#3a3a3a" stroke-width="0.7"/>
<line x1="769.96" x2="769.96" y1="361.8" y2="364.6" stroke="#3a3a3a" stroke-width="0.7"/>
<line x1="777.68" x2="777.68" y1="361.8" y2="364.6" stroke="#3a3a3a" stroke-width="0.7"/>
<line x1="785.40" x2="785.40" y1="361.8" y2="364.6" stroke="#3a3a3a" stroke-width="0.7"/>
<line x1="793.12" x2="793.12" y1="361.8" y2="364.6" stroke="#3a3a3a" stroke-width="0.7"/>
<line x1="800.84" x2="800.84" y1="361.8" y2="364.6" stroke="#3a3a3a" stroke-width="0.7"/>
<line x1="808.56" x2="808.56" y1="361.8" y2="364.6" stroke="#3a3a3a" stroke-width="0.7"/>
<line x1="816.28" x2="816.28" y1="361.8" y2="364.6" stroke="#3a3a3a" stroke-width="0.7"/>
<line x1="824.00" x2="824.00" y1="361.8" y2="364.6" stroke="#3a3a3a" stroke-width="0.7"/>
<line x1="831.72" x2="831.72" y1="361.8" y2="364.6" stroke="#3a3a3a" stroke-width="0.7"/>
<line x1="839.44" x2="839.44" y1="361.8" y2="364.6" stroke="#3a3a3a" stroke-width="0.7"/>
<line x1="847.16" x2="847.16" y1="361.8" y2="364.6" stroke="#3a3a3a" stroke-width="0.7"/>
<line x1="854.88" x2="854.88" y1="361.8" y2="364.6" stroke="#3a3a3a" stroke-width="0.7"/>
<line x1="862.60" x2="862.60" y1="361.8" y2="364.6" stroke="#3a3a3a" stroke-width="0.7"/>
<line x1="870.32" x2="870.32" y1="361.8" y2="364.6" stroke="#3a3a3a" stroke-width="0.7"/>
<line x1="878.04" x2="878.04" y1="361.8" y2="364.6" stroke="#3a3a3a" stroke-width="0.7"/>
<line x1="885.76" x2="885.76" y1="361.8" y2="364.6" stroke="#3a3a3a" stroke-width="0.7"/>
<line x1="893.48" x2="893.48" y1="361.8" y2="364.6" stroke="#3a3a3a" stroke-width="0.7"/>
<line x1="901.20" x2="901.20" y1="361.8" y2="364.6" stroke="#3a3a3a" stroke-width="0.7"/>
<line x1="908.92" x2="908.92" y1="361.8" y2="364.6" stroke="#3a3a3a" stroke-width="0.7"/>
<line x1="916.64" x2="916.64" y1="361.8" y2="364.6" stroke="#3a3a3a" stroke-width="0.7"/>
<line x1="924.36" x2="924.36" y1="361.8" y2="364.6" stroke="#3a3a3a" stroke-width="0.7"/>
<text x="514.8" y="143.6" font-size="10" textLength="22.1" lengthAdjust="spacingAndGlyphs" fill="#2a2a2a" stroke="#2a2a2a" stroke-width="0.18" >20.0%</text>
<text x="450.0" y="173.2" font-size="10" textLength="21.3" lengthAdjust="spacingAndGlyphs" fill="#2a2a2a" stroke="#2a2a2a" stroke-width="0.18" >16.4%</text>
<text x="552.3" y="181.1" font-size="10" textLength="16.7" lengthAdjust="spacingAndGlyphs" fill="#2a2a2a" stroke="#2a2a2a" stroke-width="0.18" >2.2%</text>
<text x="555.3" y="188.5" font-size="10" textLength="16.8" lengthAdjust="spacingAndGlyphs" fill="#2a2a2a" stroke="#2a2a2a" stroke-width="0.18" >0.6%</text>
<text x="559.0" y="200.9" font-size="10" textLength="16.9" lengthAdjust="spacingAndGlyphs" fill="#2a2a2a" stroke="#2a2a2a" stroke-width="0.18" >4.0%</text>
<text x="562.2" y="216.8" font-size="10" textLength="16.8" lengthAdjust="spacingAndGlyphs" fill="#2a2a2a" stroke="#2a2a2a" stroke-width="0.18" >1.4%</text>
<text x="562.8" y="228.0" font-size="10" textLength="17.2" lengthAdjust="spacingAndGlyphs" fill="#2a2a2a" stroke="#2a2a2a" stroke-width="0.18" >2.3%</text>
<text x="562.2" y="247.9" font-size="10" textLength="17.4" lengthAdjust="spacingAndGlyphs" fill="#2a2a2a" stroke="#2a2a2a" stroke-width="0.18" >4.4%</text>
<text x="559.0" y="268.4" font-size="10" textLength="17.3" lengthAdjust="spacingAndGlyphs" fill="#2a2a2a" stroke="#2a2a2a" stroke-width="0.18" >2.7%</text>
<text x="437.9" y="217.4" font-size="10" textLength="17.1" lengthAdjust="spacingAndGlyphs" fill="#2a2a2a" stroke="#2a2a2a" stroke-width="0.18" >0.1%</text>
<text x="437.1" y="232.7" font-size="10" textLength="16.9" lengthAdjust="spacingAndGlyphs" fill="#2a2a2a" stroke="#2a2a2a" stroke-width="0.18" >5.2%</text>
<text x="442.2" y="273.2" font-size="10" textLength="17.4" lengthAdjust="spacingAndGlyphs" fill="#2a2a2a" stroke="#2a2a2a" stroke-width="0.18" >8.9%</text>
<text x="505.9" y="327.9" font-size="10" textLength="21.6" lengthAdjust="spacingAndGlyphs" fill="#2a2a2a" stroke="#2a2a2a" stroke-width="0.18" >31.8%</text>
<text x="444.0" y="114.1" font-size="12" textLength="129.4" lengthAdjust="spacingAndGlyphs" fill="#2a2a2a" stroke="#2a2a2a" stroke-width="0.18" >(a) Overall CDR method shares</text>
<text x="581.5" y="114.1" font-size="12" textLength="11.3" lengthAdjust="spacingAndGlyphs" fill="#2a2a2a" stroke="#2a2a2a" stroke-width="0.18" >(b)</text>
<text x="648.3" y="105.1" font-size="10" textLength="12.0" lengthAdjust="spacingAndGlyphs" fill="#2a2a2a" stroke="#2a2a2a" stroke-width="0.18" >100</text>
<text x="652.1" y="156.9" font-size="10" textLength="8.2" lengthAdjust="spacingAndGlyphs" fill="#2a2a2a" stroke="#2a2a2a" stroke-width="0.18" >80</text>
<text x="652.1" y="209.1" font-size="10" textLength="8.2" lengthAdjust="spacingAndGlyphs" fill="#2a2a2a" stroke="#2a2a2a" stroke-width="0.18" >60</text>
<text x="652.1" y="261.4" font-size="10" textLength="8.2" lengthAdjust="spacingAndGlyphs" fill="#2a2a2a" stroke="#2a2a2a" stroke-width="0.18" >40</text>
<text x="652.1" y="313.1" font-size="10" textLength="8.2" lengthAdjust="spacingAndGlyphs" fill="#2a2a2a" stroke="#2a2a2a" stroke-width="0.18" >20</text>
<text x="656.2" y="365.4" font-size="10" textLength="4.1" lengthAdjust="spacingAndGlyphs" fill="#2a2a2a" stroke="#2a2a2a" stroke-width="0.18" >0</text>
<text x="661.1" y="376.4" font-size="10" textLength="17.2" lengthAdjust="spacingAndGlyphs" fill="#2a2a2a" stroke="#2a2a2a" stroke-width="0.18" >1990</text>
<text x="699.4" y="376.4" font-size="10" textLength="17.2" lengthAdjust="spacingAndGlyphs" fill="#2a2a2a" stroke="#2a2a2a" stroke-width="0.18" >1995</text>
<text x="737.8" y="376.4" font-size="10" textLength="17.2" lengthAdjust="spacingAndGlyphs" fill="#2a2a2a" stroke="#2a2a2a" stroke-width="0.18" >2000</text>
<text x="776.6" y="376.4" font-size="10" textLength="17.2" lengthAdjust="spacingAndGlyphs" fill="#2a2a2a" stroke="#2a2a2a" stroke-width="0.18" >2005</text>
<text x="815.0" y="376.4" font-size="10" textLength="17.2" lengthAdjust="spacingAndGlyphs" fill="#2a2a2a" stroke="#2a2a2a" stroke-width="0.18" >2010</text>
<text x="853.4" y="376.4" font-size="10" textLength="17.2" lengthAdjust="spacingAndGlyphs" fill="#2a2a2a" stroke="#2a2a2a" stroke-width="0.18" >2015</text>
<text x="892.4" y="376.4" font-size="10" textLength="17.2" lengthAdjust="spacingAndGlyphs" fill="#2a2a2a" stroke="#2a2a2a" stroke-width="0.18" >2020</text>
<text x="915.0" y="376.4" font-size="10" textLength="17.2" lengthAdjust="spacingAndGlyphs" fill="#2a2a2a" stroke="#2a2a2a" stroke-width="0.18" >2023</text>
<g transform="translate(643.0,301.6) rotate(-90) scale(1,0.72)"><text x="0" y="0" font-size="11.2" textLength="140" lengthAdjust="spacingAndGlyphs" fill="#2a2a2a" stroke="#2a2a2a" stroke-width="0.25">Share of CDR methods (%)</text></g>
<rect x="463.5" y="395.5" width="444.5" height="63.5" rx="1.5" fill="#fff" stroke="#dadada" stroke-width="1"/>
<rect x="465.6" y="400.6" width="14" height="7" fill="#e6af3a"/>
<text x="485.2" y="407.8" font-size="10" textLength="44.5" lengthAdjust="spacingAndGlyphs" fill="#2a2a2a" stroke="#2a2a2a" stroke-width="0.18" >General CDR</text>
<rect x="465.6" y="415.8" width="14" height="7" fill="#6b9bc9"/>
<text x="485.2" y="423.0" font-size="10" textLength="64.0" lengthAdjust="spacingAndGlyphs" fill="#2a2a2a" stroke="#2a2a2a" stroke-width="0.18" >Ocean fertilization</text>
<rect x="465.6" y="431.1" width="14" height="7" fill="#d5e0ee"/>
<text x="485.2" y="438.3" font-size="10" textLength="41.5" lengthAdjust="spacingAndGlyphs" fill="#2a2a2a" stroke="#2a2a2a" stroke-width="0.18" >Blue carbon</text>
<rect x="465.6" y="446.3" width="14" height="7" fill="#e7ecf5"/>
<text x="485.2" y="453.5" font-size="10" textLength="55.5" lengthAdjust="spacingAndGlyphs" fill="#2a2a2a" stroke="#2a2a2a" stroke-width="0.18" >Ocean alkalinity</text>
<rect x="562.6" y="400.6" width="14" height="7" fill="#dcb5c6"/>
<text x="582.8" y="407.8" font-size="10" textLength="75.5" lengthAdjust="spacingAndGlyphs" fill="#2a2a2a" stroke="#2a2a2a" stroke-width="0.18" >Enhanced weathering</text>
<rect x="562.6" y="415.8" width="14" height="7" fill="#b7708b"/>
<text x="582.8" y="423.0" font-size="10" textLength="25.5" lengthAdjust="spacingAndGlyphs" fill="#2a2a2a" stroke="#2a2a2a" stroke-width="0.18" >Biochar</text>
<rect x="562.6" y="431.1" width="14" height="7" fill="#d9c4b6"/>
<text x="582.8" y="438.3" font-size="10" textLength="69.5" lengthAdjust="spacingAndGlyphs" fill="#2a2a2a" stroke="#2a2a2a" stroke-width="0.18" >Forest management</text>
<rect x="672.2" y="400.6" width="14" height="7" fill="#e6ebe0"/>
<text x="692.0" y="407.8" font-size="10" textLength="42.5" lengthAdjust="spacingAndGlyphs" fill="#2a2a2a" stroke="#2a2a2a" stroke-width="0.18" >Agroforestry</text>
<rect x="672.2" y="415.8" width="14" height="7" fill="#d3dbc8"/>
<text x="692.0" y="423.0" font-size="10" textLength="70.0" lengthAdjust="spacingAndGlyphs" fill="#2a2a2a" stroke="#2a2a2a" stroke-width="0.18" >Peatland restoration</text>
<rect x="672.2" y="431.1" width="14" height="7" fill="#acb99b"/>
<text x="692.0" y="438.3" font-size="10" textLength="91.0" lengthAdjust="spacingAndGlyphs" fill="#2a2a2a" stroke="#2a2a2a" stroke-width="0.18" >Afforestation/reforestation</text>
<rect x="797.3" y="400.6" width="14" height="7" fill="#6e901b"/>
<text x="816.8" y="407.8" font-size="10" textLength="88.6" lengthAdjust="spacingAndGlyphs" fill="#2a2a2a" stroke="#2a2a2a" stroke-width="0.18" >Soil carbon sequestration</text>
<rect x="797.3" y="415.8" width="14" height="7" fill="#e37a10"/>
<text x="816.8" y="423.0" font-size="10" textLength="29.5" lengthAdjust="spacingAndGlyphs" fill="#2a2a2a" stroke="#2a2a2a" stroke-width="0.18" >DAC(CS)</text>
<rect x="797.3" y="431.1" width="14" height="7" fill="#f8dab6"/>
<text x="816.8" y="438.3" font-size="10" textLength="23.5" lengthAdjust="spacingAndGlyphs" fill="#2a2a2a" stroke="#2a2a2a" stroke-width="0.18" >BECCS</text>
</g>
<defs><filter id="bl" x="-5%" y="-5%" width="110%" height="110%"><feGaussianBlur stdDeviation="0.35"/></filter><filter id="bt" x="-5%" y="-5%" width="110%" height="110%"><feGaussianBlur stdDeviation="0.28"/></filter></defs>
</svg>
</body></html>
